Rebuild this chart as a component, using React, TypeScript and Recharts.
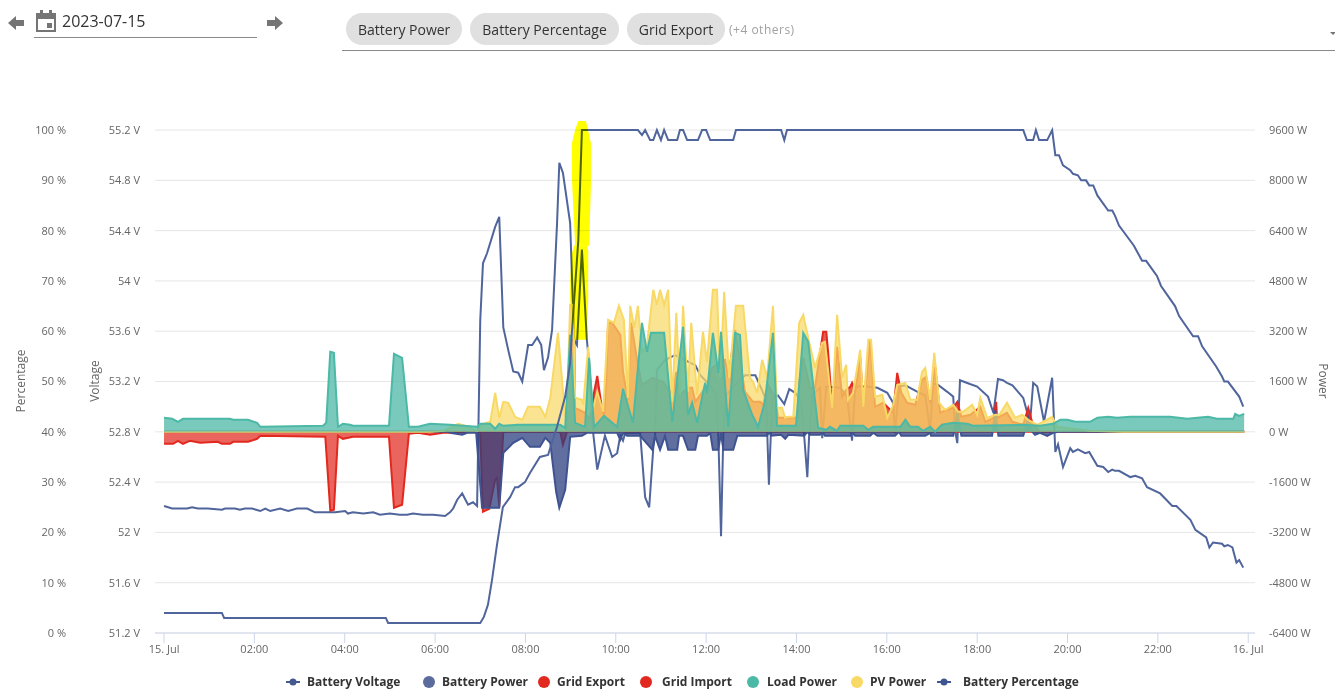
import React from 'react';
import { ComposedChart, Area, Line, XAxis, YAxis, CartesianGrid, Label } from 'recharts';

type Sample = [number, number];

const hourTicks = [0, 2, 4, 6, 8, 10, 12, 14, 16, 18, 20, 22, 24];
const percentTicks = [0, 10, 20, 30, 40, 50, 60, 70, 80, 90, 100];
const voltageTicks = [51.2, 51.6, 52, 52.4, 52.8, 53.2, 53.6, 54, 54.4, 54.8, 55.2];
const powerTicks = [-6400, -4800, -3200, -1600, 0, 1600, 3200, 4800, 6400, 8000, 9600];
const selectedChips = ['Battery Power', 'Battery Percentage', 'Grid Export'];

// [hour of day, volts]
const batteryVoltage: Sample[] = [
  [0, 52.21], [0.18, 52.19], [0.51, 52.19], [0.62, 52.2], [0.75, 52.19], [0.97, 52.19], [1.28, 52.18], [1.35, 52.19],
  [1.57, 52.19], [1.68, 52.18], [1.79, 52.19], [1.95, 52.19], [2.13, 52.17], [2.24, 52.19], [2.35, 52.17], [2.57, 52.19],
  [2.75, 52.17], [2.94, 52.19], [3.17, 52.19], [3.34, 52.16], [3.79, 52.16], [4.01, 52.17], [4.07, 52.15], [4.18, 52.16],
  [4.41, 52.15], [4.63, 52.16], [4.78, 52.14], [5.0, 52.15], [5.22, 52.14], [5.38, 52.14], [5.51, 52.15], [5.73, 52.14],
  [5.96, 52.14], [6.22, 52.13], [6.33, 52.16], [6.4, 52.19], [6.49, 52.26], [6.6, 52.31], [6.73, 52.22], [6.84, 52.24],
  [6.93, 52.21], [7.0, 53.69], [7.06, 54.14], [7.15, 54.22], [7.33, 54.43], [7.42, 54.51], [7.51, 53.63], [7.62, 53.45],
  [7.73, 53.28], [7.84, 53.27], [7.93, 53.2], [8.06, 53.49], [8.15, 53.49], [8.26, 53.55], [8.35, 53.49], [8.41, 53.29],
  [8.5, 53.39], [8.59, 53.61], [8.7, 54.46], [8.75, 54.94], [8.83, 54.86], [8.99, 54.46], [9.03, 54.03], [9.08, 53.53],
  [9.14, 53.49], [9.25, 54.25], [9.36, 53.53], [9.41, 53.35], [9.5, 52.79], [9.59, 52.5], [9.76, 52.77], [9.92, 52.6],
  [10.03, 52.63], [10.1, 52.77], [10.16, 52.73], [10.21, 52.79], [10.54, 52.79], [10.65, 52.28], [10.74, 52.2], [10.83, 52.67],
  [10.87, 52.77], [10.91, 53.29], [11.09, 53.37], [11.31, 53.41], [11.53, 53.37], [11.76, 53.33], [11.87, 53.25], [12.09, 53.17],
  [12.22, 53.09], [12.27, 52.77], [12.33, 51.97], [12.38, 52.77], [12.44, 53.09], [12.64, 53.17], [12.86, 53.25], [13.09, 53.25],
  [13.24, 53.13], [13.33, 53.05], [13.39, 52.38], [13.46, 53.05], [13.59, 53.09], [13.73, 53.02], [13.84, 53.14], [13.97, 53.11],
  [14.1, 53.05], [14.17, 52.77], [14.24, 52.44], [14.28, 52.77], [14.35, 53.09], [14.52, 53.15], [14.57, 52.75], [14.66, 53.16],
  [14.97, 53.15], [15.12, 53.08], [15.23, 52.73], [15.3, 53.16], [15.56, 53.16], [15.79, 53.15], [16.01, 53.11], [16.14, 53.03],
  [16.18, 52.79], [16.27, 53.16], [16.41, 53.17], [16.67, 53.12], [16.85, 53.09], [16.96, 52.81], [17.02, 53.18], [17.11, 53.18],
  [17.33, 53.12], [17.47, 53.08], [17.51, 52.81], [17.56, 52.71], [17.62, 53.21], [17.84, 53.18], [18.0, 53.16], [18.24, 53.08],
  [18.36, 52.95], [18.46, 53.22], [18.57, 53.21], [18.66, 53.19], [18.78, 53.17], [19.02, 53.07], [19.17, 52.87], [19.24, 53.19],
  [19.33, 53.16], [19.48, 52.88], [19.66, 53.23], [19.73, 52.64], [19.79, 52.7], [19.9, 52.52], [20.06, 52.67], [20.12, 52.64],
  [20.23, 52.66], [20.39, 52.63], [20.48, 52.64], [20.66, 52.53], [20.79, 52.52], [20.9, 52.48], [20.99, 52.5], [21.05, 52.49],
  [21.14, 52.49], [21.39, 52.44], [21.5, 52.45], [21.65, 52.43], [21.76, 52.36], [22.05, 52.31], [22.32, 52.21], [22.41, 52.21],
  [22.72, 52.1], [22.83, 52.02], [23.07, 51.96], [23.14, 51.88], [23.22, 51.92], [23.42, 51.91], [23.47, 51.89], [23.55, 51.9],
  [23.65, 51.88], [23.74, 51.76], [23.8, 51.78], [23.89, 51.72],
];

// [hour of day, percent]
const batteryPercentage: Sample[] = [
  [0, 4], [1.28, 4], [1.33, 3], [4.91, 3], [4.96, 2], [7.0, 2], [7.08, 3.2], [7.17, 5.6], [7.26, 10.5], [7.37, 17.5],
  [7.5, 25], [7.66, 27], [7.77, 29], [7.84, 29], [7.99, 30], [8.1, 31.8], [8.32, 35], [8.5, 35.4], [8.7, 41], [8.88, 47],
  [8.99, 53.7], [9.03, 60], [9.17, 78], [9.25, 100], [10.49, 100], [10.58, 99], [10.65, 100], [10.76, 98], [10.83, 98],
  [10.91, 100], [11.0, 98], [11.07, 100], [11.16, 98], [11.36, 98], [11.42, 100], [11.49, 100], [11.58, 98], [11.82, 98],
  [11.91, 100], [12.0, 100], [12.09, 98], [12.6, 98], [12.66, 100], [13.66, 100], [13.73, 98], [13.79, 100], [19.02, 100],
  [19.1, 98], [19.24, 98], [19.3, 100], [19.37, 98], [19.55, 98], [19.66, 100], [19.73, 95], [19.81, 95], [19.9, 93],
  [20.06, 92], [20.12, 91.3], [20.23, 91], [20.3, 90], [20.41, 90], [20.48, 89], [20.57, 89], [20.66, 87], [20.9, 84],
  [20.99, 84], [21.05, 83], [21.14, 81], [21.47, 77], [21.59, 75], [21.65, 74], [21.74, 74], [21.98, 71], [22.07, 69],
  [22.38, 65], [22.47, 63], [22.78, 59], [22.89, 59], [22.98, 57], [23.29, 53], [23.42, 51], [23.47, 50], [23.55, 50],
  [23.8, 47], [23.89, 45],
];

// [hour of day, watts]
const batteryPower: Sample[] = [
  [0, 0], [6.3, 0], [6.33, -32], [6.6, -95], [6.71, -32], [6.91, -32], [7.04, -2417], [7.42, -2417], [7.51, -668],
  [7.73, -350], [7.93, -191], [8.1, -477], [8.32, -477], [8.44, -191], [8.55, -350], [8.68, -1908], [8.75, -2417],
  [8.88, -1844], [8.99, -159], [9.25, -127], [9.36, -32], [10.03, -32], [10.1, -254], [10.16, -32], [10.25, -127],
  [10.54, -127], [10.81, -572], [10.87, -127], [10.98, -572], [11.09, -127], [11.16, -572], [11.36, -572], [11.4, -127],
  [11.49, -127], [11.6, -572], [11.76, -572], [11.82, -127], [12.02, -127], [12.09, -32], [12.15, -572], [12.27, -572],
  [12.33, -32], [12.38, -572], [12.6, -572], [12.69, -127], [13.35, -127], [13.39, 0], [13.44, -127], [13.66, -95],
  [13.75, -223], [13.82, -95], [14.17, -127], [14.24, 0], [14.3, -95], [14.52, -95], [14.57, 0], [14.63, -127], [15.19, -127],
  [15.23, 0], [15.3, -127], [15.63, -127], [15.7, -32], [15.79, -127], [16.18, -127], [16.27, 0], [16.32, -127], [16.85, -127],
  [16.96, -32], [16.98, -127], [17.47, -127], [17.56, 636], [17.65, -127], [18.33, -127], [18.4, 700], [18.47, -127], [19.02, -127],
  [19.13, 445], [19.22, 0], [19.28, -95], [19.39, -32], [19.55, -127], [19.68, -32], [19.8, 0], [23.91, 0],
];

const gridExport: Sample[] = [
  [0, 0], [8.9, 0], [8.99, 2926], [9.08, 2926], [9.1, 763], [9.32, 604], [9.43, 382], [9.52, 1272], [9.59, 1781], [9.64, 1272],
  [9.7, 700], [9.74, 509], [9.79, 1654], [9.83, 3466], [9.92, 3466], [10.1, 3085], [10.16, 1908], [10.27, 1018], [10.34, 3466],
  [10.49, 2131], [10.58, 1495], [10.81, 1717], [11.05, 1590], [11.25, 1177], [11.34, 1908], [11.42, 1177], [11.6, 1399],
  [11.69, 1399], [11.76, 954], [11.87, 1177], [11.98, 1399], [12.02, 1272], [12.13, 2035], [12.24, 2131], [12.31, 2226],
  [12.42, 2290], [12.49, 1717], [12.64, 3244], [12.86, 1272], [13.04, 954], [13.2, 954], [13.26, 859], [13.37, 1495],
  [13.53, 1081], [13.59, 445], [14.02, 445], [14.06, 1590], [14.15, 2353], [14.3, 1399], [14.41, 1399], [14.59, 3180],
  [14.66, 3180], [14.7, 2544], [14.79, 763], [14.9, 2703], [15.01, 1113], [15.1, 1336], [15.19, 1431], [15.23, 1558],
  [15.3, 1272], [15.41, 2385], [15.48, 795], [15.63, 2926], [15.74, 795], [15.92, 922], [16.14, 604], [16.23, 1876],
  [16.32, 1240], [16.45, 922], [16.63, 859], [16.78, 1654], [16.87, 1749], [16.96, 922], [17.07, 2067], [17.18, 604],
  [17.33, 700], [17.47, 763], [17.56, 954], [17.65, 477], [17.85, 541], [18.07, 795], [18.18, 318], [18.36, 445], [18.42, 954],
  [18.44, 445], [18.66, 604], [18.78, 318], [19.02, 223], [19.13, 763], [19.22, 286], [19.39, 0], [23.91, 0],
];

const gridImport: Sample[] = [
  [0, -382], [0.2, -382], [0.31, -286], [0.42, -382], [0.57, -286], [0.80, -350], [1.19, -318], [1.28, -382], [1.46, -382],
  [1.53, -318], [1.86, -318], [2.06, -223], [2.13, -127], [3.57, -159], [3.68, -2512], [3.76, -2480], [3.85, -127], [3.96, -223],
  [4.18, -159], [4.98, -159], [5.09, -2417], [5.27, -2321], [5.42, -64], [5.62, -32], [5.89, -95], [6.18, -32], [6.33, -32],
  [6.98, 0], [7.0, 0], [7.06, -2544], [7.2, -2449], [7.33, -1526], [7.37, -1463], [7.42, -2385], [7.51, 0], [8.77, 0],
  [8.83, -413], [8.92, 0], [23.91, 0],
];

const loadPower: Sample[] = [
  [0, 445], [0.18, 413], [0.31, 318], [0.42, 413], [1.24, 413], [1.46, 413], [1.53, 382], [1.86, 382], [2.06, 286], [2.13, 159],
  [3.52, 191], [3.59, 286], [3.68, 2544], [3.76, 2512], [3.85, 159], [3.96, 254], [4.12, 223], [4.18, 191], [4.98, 191],
  [5.09, 2480], [5.27, 2353], [5.42, 159], [5.62, 159], [5.89, 254], [6.33, 223], [6.93, 159], [7.0, 254], [7.22, 254], [7.33, 95],
  [7.42, 254], [7.51, 191], [7.82, 223], [8.77, 223], [8.88, 127], [8.99, 3085], [9.1, 286], [9.32, 159], [9.41, 2353], [9.52, 159],
  [9.74, 509], [10.03, 159], [10.16, 1367], [10.38, 286], [10.58, 3466], [10.69, 2544], [10.78, 3148], [11.07, 3148], [11.25, 318],
  [11.49, 3339], [11.6, 541], [11.69, 922], [11.8, 286], [11.93, 1240], [11.98, 1558], [12.02, 1240], [12.15, 3148], [12.27, 1876],
  [12.33, 3180], [12.49, 159], [12.64, 3148], [12.75, 3085], [12.82, 1336], [13.02, 541], [13.15, 159], [13.3, 954], [13.48, 3148],
  [13.57, 191], [13.99, 191], [14.15, 3148], [14.26, 2862], [14.48, 127], [14.66, 64], [14.74, 159], [14.9, 32], [14.97, 191],
  [15.48, 191], [15.59, 64], [15.7, 159], [16.3, 159], [16.41, 382], [16.52, 159], [16.69, 159], [16.8, 32], [16.96, 159],
  [17.07, 0], [17.22, 223], [17.47, 286], [17.78, 254], [17.91, 191], [19.02, 223], [19.39, 191], [19.68, 254], [19.84, 382],
  [20.0, 382], [20.17, 318], [20.5, 318], [20.66, 445], [20.9, 477], [21.1, 445], [21.39, 477], [21.76, 477], [22.27, 477],
  [22.65, 413], [23.11, 477], [23.31, 413], [23.67, 413], [23.71, 572], [23.8, 509], [23.91, 572],
];

const pvPower: Sample[] = [
  [0, 0], [5.89, 0], [6.2, 32], [6.51, 254], [6.66, 191], [6.93, 32], [7.06, 254], [7.22, 318], [7.33, 1240], [7.42, 445],
  [7.51, 954], [7.62, 922], [7.77, 477], [7.93, 382], [8.06, 795], [8.32, 795], [8.44, 477], [8.55, 1081], [8.72, 3148],
  [8.88, 477], [8.92, 795], [8.99, 4039], [9.06, 4039], [9.1, 1081], [9.25, 1018], [9.28, 859], [9.39, 2703], [9.48, 636],
  [9.59, 1272], [9.72, 636], [9.83, 3562], [9.96, 3466], [10.07, 4007], [10.18, 3562], [10.27, 1081], [10.32, 4007], [10.41, 3307],
  [10.49, 4007], [10.58, 2544], [10.69, 2767], [10.83, 4516], [10.91, 4039], [10.98, 4516], [11.07, 4039], [11.16, 4516],
  [11.25, 954], [11.34, 3784], [11.42, 1177], [11.49, 4007], [11.6, 1272], [11.67, 3466], [11.8, 1177], [11.93, 3180], [12.02, 2226],
  [12.15, 4516], [12.24, 4516], [12.31, 1717], [12.4, 4452], [12.51, 1717], [12.66, 4007], [12.82, 4007], [12.97, 1717], [13.04, 1590],
  [13.13, 1240], [13.24, 2290], [13.35, 1717], [13.48, 4007], [13.57, 763], [13.68, 763], [13.75, 445], [13.82, 477], [13.93, 477],
  [14.06, 3466], [14.15, 3720], [14.26, 2989], [14.41, 2035], [14.57, 2830], [14.63, 2862], [14.79, 763], [14.9, 3720], [15.01, 1717],
  [15.1, 2131], [15.14, 1018], [15.25, 1240], [15.41, 2608], [15.48, 795], [15.59, 2926], [15.65, 2926], [15.74, 1113], [15.9, 1177],
  [16.01, 445], [16.14, 859], [16.23, 1495], [16.41, 1558], [16.52, 1018], [16.67, 1018], [16.78, 1908], [16.85, 2035], [16.96, 1018],
  [17.05, 2512], [17.16, 922], [17.29, 700], [17.47, 859], [17.58, 636], [17.69, 636], [17.89, 859], [18.0, 541], [18.07, 1081],
  [18.22, 445], [18.4, 541], [18.49, 541], [18.66, 922], [18.84, 445], [19.0, 541], [19.13, 382], [19.33, 223], [19.66, 477],
  [19.77, 159], [20.13, 95], [20.5, 32], [21.23, 0], [23.91, 0],
];

// marker strokes drawn over the percentage line around 09:15: [hour, [low %, high %]]
const highlightUpper: [number, [number, number]][] = [
  [9.03, [90.1, 97.4]], [9.1, [77, 100]], [9.17, [77, 101.8]], [9.34, [77, 101.8]], [9.41, [77, 99]], [9.45, [89.1, 97.4]],
];
const highlightLower: [number, [number, number]][] = [
  [8.99, [66.2, 70.2]], [9.03, [62.2, 75.5]], [9.08, [58.3, 77.1]], [9.36, [58.3, 77.1]], [9.39, [66.2, 76.1]],
];

const toRows = (samples: Sample[]) => samples.map(([t, v]) => ({ t, v }));
const toRangeRows = (samples: [number, [number, number]][]) => samples.map(([t, range]) => ({ t, range }));

const hourLabel = (h: number) => {
  if (h === 0) return '15. Jul';
  if (h === 24) return '16. Jul';
  return `${String(h).padStart(2, '0')}:00`;
};

const tickStyle = { fontSize: 11, fill: '#666666', fontFamily: 'Open Sans' };
const titleStyle = { fontSize: 12, fill: '#666666', fontFamily: 'Open Sans' };

const legendItems = [
  { name: 'Battery Voltage', color: '#46598f', line: true, left: 286, textLeft: 21 },
  { name: 'Battery Power', color: '#5a6b9c', line: false, left: 423, textLeft: 19 },
  { name: 'Grid Export', color: '#e2291f', line: false, left: 538, textLeft: 19 },
  { name: 'Grid Import', color: '#e2291f', line: false, left: 640, textLeft: 22 },
  { name: 'Load Power', color: '#4cb8a6', line: false, left: 747, textLeft: 20 },
  { name: 'PV Power', color: '#f8d966', line: false, left: 851, textLeft: 19 },
  { name: 'Battery Percentage', color: '#3f5590', line: true, left: 937, textLeft: 26 },
];

const Arrow = ({ left, flip }: { left: number; flip?: boolean }) => (
  <svg width={16} height={16} viewBox="0 0 16 16" style={{ position: 'absolute', left, top: 15, transform: flip ? 'scaleX(-1)' : undefined }}>
    <path d="M0 8 L8 1 V5 H16 V11 H8 V15 Z" fill="#757575" />
  </svg>
);

const Header = () => (
  <div style={{ fontFamily: 'Open Sans', color: '#333333' }}>
    <Arrow left={8} />
    <svg width={20} height={22} viewBox="0 0 20 22" style={{ position: 'absolute', left: 36, top: 10 }}>
      <path d="M1 4 H19 V21 H1 Z M1 8 H19" fill="none" stroke="#757575" strokeWidth={2} />
      <path d="M0 3 H20 V8 H0 Z M4 0 H7 V3 H4 Z M13 0 H16 V3 H13 Z M11 13 H16 V18 H11 Z" fill="#757575" />
    </svg>
    <div style={{ position: 'absolute', left: 62, top: 10, fontSize: 16 }}>2023-07-15</div>
    <div style={{ position: 'absolute', left: 34, top: 37, width: 223, height: 1, background: '#8a8a8a' }} />
    <Arrow left={267} flip />
    <div style={{ position: 'absolute', left: 346, top: 13, display: 'flex', gap: 8, alignItems: 'center' }}>
      {selectedChips.map((chip) => (
        <div key={chip} style={{ background: '#e0e0e0', borderRadius: 16, height: 32, lineHeight: '33px', padding: '0 12px', fontSize: 14 }}>
          {chip}
        </div>
      ))}
    </div>
    <div style={{ position: 'absolute', left: 729, top: 21, fontSize: 12, color: '#a0a0a0', letterSpacing: 0.5 }}>(+4 others)</div>
    <div style={{ position: 'absolute', left: 342, top: 50, width: 993, height: 1, background: '#8a8a8a' }} />
    <div style={{ position: 'absolute', left: 1330, top: 32, borderLeft: '3px solid transparent', borderRight: '3px solid transparent', borderTop: '3px solid #757575' }} />
  </div>
);

const ChartLegend = () => (
  <div style={{ fontFamily: 'Open Sans', fontSize: 12, fontWeight: 700, color: '#333333' }}>
    {legendItems.map((item) => (
      <div key={item.name} style={{ position: 'absolute', left: item.left, top: 674, height: 16, lineHeight: '16px', whiteSpace: 'nowrap' }}>
        <svg width={16} height={16} style={{ position: 'absolute', left: 0, top: 0 }}>
          {item.line && <line x1={0} x2={14} y1={8} y2={8} stroke={item.color} strokeWidth={2} />}
          {item.line ? <circle cx={7} cy={8} r={3.5} fill={item.color} /> : <circle cx={6} cy={8} r={6} fill={item.color} />}
        </svg>
        <span style={{ marginLeft: item.textLeft }}>{item.name}</span>
      </div>
    ))}
  </div>
);

export default function App() {
  return (
    <div style={{ position: 'absolute', left: 0, top: 0, width: 1335, height: 697, background: '#ffffff', overflow: 'hidden' }}>
      <style>{`.marker-stroke { mix-blend-mode: multiply; }`}</style>
      <Header />
      <div style={{ position: 'absolute', left: 0, top: 0 }}>
        {/* plot starts 9px above the 100 % line so the yellow marker stroke fits; domains are stretched to keep the ticks in place */}
        <ComposedChart width={1335} height={697} margin={{ top: 121, right: 5, bottom: 34, left: 5 }}>
          <CartesianGrid yAxisId="percent" horizontal vertical={false} horizontalValues={percentTicks} stroke="#e6e6e6" />
          <XAxis
            dataKey="t"
            type="number"
            domain={[-0.2, 24.15]}
            ticks={hourTicks}
            interval={0}
            tickFormatter={hourLabel}
            height={30}
            tick={tickStyle}
            tickSize={10}
            tickMargin={2}
            stroke="#ccd6eb"
            allowDataOverflow
          />
          <YAxis yAxisId="batteryVoltage" orientation="left" width={75} domain={[51.2, 55.272]} ticks={voltageTicks} interval={0}
            tickFormatter={(v) => `${v} V`} tick={tickStyle} axisLine={false} tickLine={false} tickSize={0} tickMargin={15}>
            <Label value="Voltage" angle={-90} position="center" dx={-23} dy={4} style={titleStyle} />
          </YAxis>
          <YAxis yAxisId="percent" orientation="left" width={75} domain={[0, 101.79]} ticks={percentTicks} interval={0}
            tickFormatter={(v) => `${v} %`} tick={tickStyle} axisLine={false} tickLine={false} tickSize={0} tickMargin={14}>
            <Label value="Percentage" angle={-90} position="center" dx={-22} dy={4} style={titleStyle} />
          </YAxis>
          <YAxis yAxisId="power" orientation="right" width={75} domain={[-6400, 9887]} ticks={powerTicks} interval={0}
            tickFormatter={(v) => `${v} W`} tick={tickStyle} axisLine={false} tickLine={false} tickSize={0} tickMargin={14}>
            <Label value="Power" angle={90} position="center" dx={31} dy={4} style={titleStyle} />
          </YAxis>

          <Line zIndex={90} yAxisId="batteryVoltage" data={toRows(batteryVoltage)} dataKey="v" name="Battery Voltage" stroke="#50659c" strokeWidth={2} dot={false} activeDot={false} isAnimationActive={false} />
          <Area zIndex={101} yAxisId="power" data={toRows(gridExport)} dataKey="v" name="Grid Export" stroke="#e2291f" strokeWidth={2} fill="#e2291f" fillOpacity={0.75} dot={false} activeDot={false} isAnimationActive={false} />
          <Area zIndex={102} yAxisId="power" data={toRows(gridImport)} dataKey="v" name="Grid Import" stroke="#e2291f" strokeWidth={2} fill="#e2291f" fillOpacity={0.72} dot={false} activeDot={false} isAnimationActive={false} />
          <Area zIndex={103} yAxisId="power" data={toRows(batteryPower)} dataKey="v" name="Battery Power" stroke="#3e5390" strokeWidth={2} fill="#2c3f80" fillOpacity={0.75} dot={false} activeDot={false} isAnimationActive={false} />
          <Area zIndex={104} yAxisId="power" data={toRows(pvPower)} dataKey="v" name="PV Power" stroke="#f8d966" strokeWidth={2} fill="#f8d966" fillOpacity={0.72} dot={false} activeDot={false} isAnimationActive={false} />
          <Area zIndex={105} yAxisId="power" data={toRows(loadPower)} dataKey="v" name="Load Power" stroke="#4cb8a6" strokeWidth={2} fill="#4cb8a6" fillOpacity={0.75} dot={false} activeDot={false} isAnimationActive={false} />
          <Line zIndex={400} yAxisId="percent" data={toRows(batteryPercentage)} dataKey="v" name="Battery Percentage" stroke="#50659c" strokeWidth={2} dot={false} activeDot={false} isAnimationActive={false} />
          <Area zIndex={500} className="marker-stroke" yAxisId="percent" data={toRangeRows(highlightUpper)} dataKey="range" stroke="none" fill="#ffff00" fillOpacity={1} dot={false} activeDot={false} isAnimationActive={false} />
          <Area zIndex={500} className="marker-stroke" yAxisId="percent" data={toRangeRows(highlightLower)} dataKey="range" stroke="none" fill="#ffff00" fillOpacity={1} dot={false} activeDot={false} isAnimationActive={false} />
        </ComposedChart>
      </div>
      <ChartLegend />
    </div>
  );
}
